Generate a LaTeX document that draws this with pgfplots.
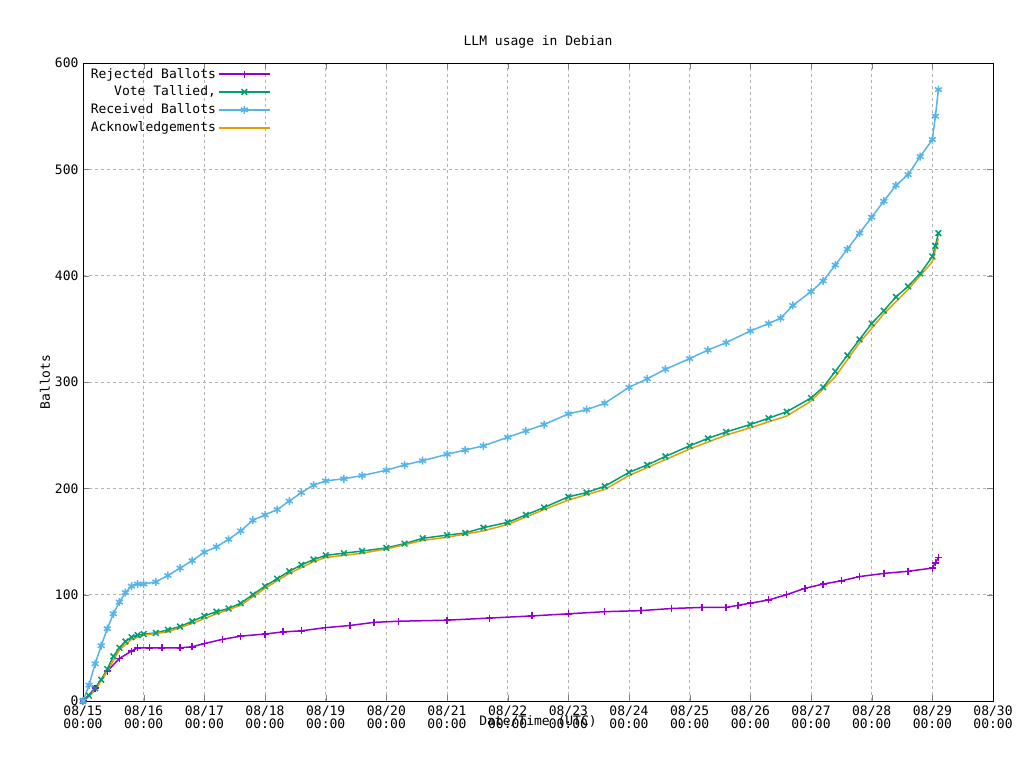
\documentclass[border=0pt]{standalone}
\usepackage{pgfplots}
\pgfplotsset{compat=1.18}
\usepackage{fontspec}
\setmainfont{DejaVu Sans Mono}
\definecolor{cpur}{HTML}{9400D3}
\definecolor{cgrn}{HTML}{009E73}
\definecolor{ccyn}{HTML}{56B4E9}
\definecolor{corg}{HTML}{E69F00}
\begin{document}
\fontsize{13}{15}\selectfont
\begin{tikzpicture}[x=1pt,y=1pt]
\path[use as bounding box] (0,0) rectangle (1024,768);
\begin{axis}[at={(83pt,67pt)},anchor=south west,
  scale only axis,width=910pt,height=638pt,
  xmin=0,xmax=15,ymin=0,ymax=600,
  xtick={0,...,15},
  xticklabels={08/15\\00:00,08/16\\00:00,08/17\\00:00,08/18\\00:00,08/19\\00:00,08/20\\00:00,08/21\\00:00,08/22\\00:00,08/23\\00:00,08/24\\00:00,08/25\\00:00,08/26\\00:00,08/27\\00:00,08/28\\00:00,08/29\\00:00,08/30\\00:00},
  xticklabel style={align=center,font=\fontsize{13}{13}\selectfont},
  yticklabel style={font=\fontsize{13}{15}\selectfont},
  ytick={0,100,...,600},
  /pgf/number format/assume math mode=true,
  tick align=inside, major tick length=6pt,
  grid=major, grid style={dashed,gray!60},
  axis line style={black,thick},
  title={LLM usage in Debian}, title style={yshift=4pt},
  xlabel={Date/Time (UTC)}, xlabel style={yshift=22pt},
  ylabel={Ballots}, ylabel style={yshift=-4pt},
  legend cell align=right, legend plot pos=right,
  legend style={draw=none,fill=none,font=\fontsize{13}{15}\selectfont,row sep=2pt,inner sep=1pt,at={(0.005,0.997)},anchor=north west},
  legend image code/.code={\draw[mark repeat=2,mark phase=2,#1] plot coordinates {(0cm,0cm)(0.9cm,0cm)(1.8cm,0cm)};},
  mark size=3.5pt, every axis plot/.append style={line width=1.5pt},
]
\addlegendimage{cpur,mark=+,line width=1.5pt}
\addlegendentry{Rejected Ballots}
\addlegendimage{cgrn,mark=x,mark size=4pt,line width=1.5pt}
\addlegendentry{Vote Tallied,}
\addlegendimage{ccyn,mark=asterisk,mark size=4pt,line width=1.5pt}
\addlegendentry{Received Ballots}
\addlegendimage{corg,line width=1.5pt}
\addlegendentry{Acknowledgements}
\addplot[cpur,mark=+,forget plot] coordinates {(0,0)(0.2,12)(0.4,28)(0.6,40)(0.8,47)(0.9,50)(1.1,50)(1.3,50)(1.6,50)(1.8,51)(2,54)(2.3,58)(2.6,61)(3,63)(3.3,65)(3.6,66)(4,69)(4.4,71)(4.8,74)(5.2,75)(6,76)(6.7,78)(7.4,80)(8,82)(8.6,84)(9.2,85)(9.7,87)(10.2,88)(10.6,88)(10.8,90)(11,92)(11.3,95)(11.6,100)(11.9,106)(12.2,110)(12.5,113)(12.8,117)(13.2,120)(13.6,122)(14,125)(14.05,130)(14.1,135)};
\addplot[cgrn,mark=x,mark size=4pt,forget plot] coordinates {(0,0)(0.1,5)(0.2,12)(0.3,20)(0.4,30)(0.5,42)(0.6,50)(0.7,56)(0.8,60)(0.9,62)(1,63)(1.2,64)(1.4,67)(1.6,70)(1.8,75)(2,80)(2.2,84)(2.4,87)(2.6,92)(2.8,100)(3,108)(3.2,115)(3.4,122)(3.6,128)(3.8,133)(4,137)(4.3,139)(4.6,141)(5,144)(5.3,148)(5.6,153)(6,156)(6.3,158)(6.6,163)(7,168)(7.3,175)(7.6,182)(8,192)(8.3,196)(8.6,202)(9,215)(9.3,222)(9.6,230)(10,240)(10.3,247)(10.6,253)(11,260)(11.3,266)(11.6,272)(12,285)(12.2,295)(12.4,310)(12.6,325)(12.8,340)(13,355)(13.2,367)(13.4,380)(13.6,390)(13.8,402)(14,418)(14.05,428)(14.1,440)};
\addplot[ccyn,mark=asterisk,mark size=4pt,forget plot] coordinates {(0,0)(0.1,15)(0.2,35)(0.3,52)(0.4,68)(0.5,82)(0.6,93)(0.7,102)(0.8,108)(0.9,110)(1,110)(1.2,112)(1.4,118)(1.6,125)(1.8,132)(2,140)(2.2,145)(2.4,152)(2.6,160)(2.8,170)(3,175)(3.2,180)(3.4,188)(3.6,196)(3.8,203)(4,207)(4.3,209)(4.6,212)(5,217)(5.3,222)(5.6,226)(6,232)(6.3,236)(6.6,240)(7,248)(7.3,254)(7.6,260)(8,270)(8.3,274)(8.6,280)(9,295)(9.3,303)(9.6,312)(10,322)(10.3,330)(10.6,337)(11,348)(11.3,355)(11.5,360)(11.7,372)(12,385)(12.2,395)(12.4,410)(12.6,425)(12.8,440)(13,455)(13.2,470)(13.4,485)(13.6,495)(13.8,512)(14,528)(14.05,550)(14.1,575)};
\addplot[corg,forget plot] coordinates {(0,0)(0.2,10)(0.4,28)(0.6,48)(0.8,58)(1,62)(1.4,65)(1.8,73)(2.2,82)(2.6,90)(3,106)(3.4,120)(3.8,131)(4,135)(4.6,139)(5,143)(5.6,151)(6,154)(6.6,160)(7,166)(7.6,180)(8,189)(8.6,199)(9,212)(9.6,227)(10,237)(10.6,250)(11,257)(11.6,268)(12,282)(12.4,305)(12.8,337)(13.2,364)(13.6,387)(14,413)(14.1,435)};
\end{axis}
\end{tikzpicture}
\end{document}
